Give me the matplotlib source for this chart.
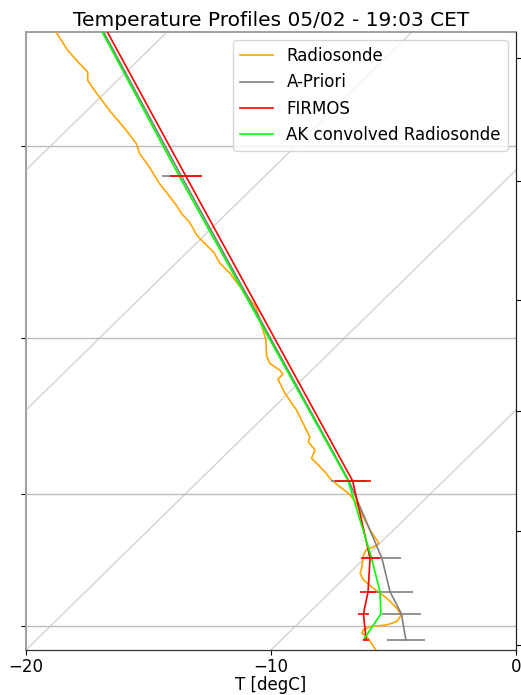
import numpy as np
import matplotlib
matplotlib.use("Agg")
import matplotlib.pyplot as plt
import matplotlib.transforms as mtransforms
from matplotlib.ticker import FixedLocator, NullLocator, NullFormatter

# radiosonde profile, pressure [hPa] and temperature [degC]
sonde_p = [345, 350.2, 357.6, 363.1, 366.8, 370.4, 374.7, 383.6, 392.6, 398.7,
           403.3, 409.9, 417.8, 421.9, 428.5, 432.6, 437.1, 443.7, 447.9, 452.6,
           458.4, 463.8, 473.1, 482.4, 489.9, 495.7, 501.5, 511.0, 515.3, 519.4,
           521.8, 524.9, 533.5, 544.2, 554.9, 561.4, 564.6, 570.1, 575.7, 579.0,
           584.8, 590.5, 595.1, 600.2, 606.7, 616.3, 625.9, 633.2, 635.7, 638.4,
           640.6, 645.1, 654.2, 658.3, 663.4, 669.9, 677.8, 685.7, 691.1, 696.5,
           699.2, 700.6, 703.3, 706.0, 708.8, 712.9, 717.1, 721.6]
sonde_T = [-45.37, -44.50, -43.28, -42.26, -41.56, -41.21, -40.52, -39.07, -37.56, -36.60,
           -36.06, -35.07, -33.98, -33.36, -32.39, -31.84, -31.14, -30.31, -29.66, -28.91,
           -28.21, -27.38, -26.15, -24.92, -24.20, -23.65, -23.12, -22.42, -21.99, -21.30,
           -21.01, -21.00, -20.14, -18.95, -17.92, -17.30, -17.16, -16.54, -16.33, -15.92,
           -15.23, -14.61, -13.99, -13.30, -12.62, -11.79, -10.96, -10.27, -10.04, -10.12,
           -10.29, -10.15, -9.72, -9.56, -9.15, -8.40, -7.43, -6.61, -6.15, -6.05,
           -6.32, -6.93, -7.07, -6.99, -6.65, -6.30, -5.96, -5.59]

# retrieval grid
levels_p = [340, 414.3, 591.1, 646.7, 672.8, 690.3, 711.5]
apriori_T = [-44.17, -33.38, -13.86, -9.31, -7.56, -6.18, -4.92]
firmos_T = [-44.02, -33.20, -13.71, -9.79, -8.46, -7.73, -6.54]
ak_T = [-44.22, -33.47, -13.89, -9.73, -7.97, -7.02, -6.65]

# error bars (all levels except the top one)
apriori_err = [0.80, 0.75, 0.78, 0.93, 0.78, 0.78]
firmos_err = [0.67, 0.73, 0.39, 0.33, 0.22, 0.12]

isotherms = [-50, -40, -30, -20, -10, 0]
p_ticks = [400, 500, 600, 700]
height_ticks_p = [360.6, 416.7, 478.7, 544.8, 626.6, 715.7]

P_BOTTOM = 720
P_TOP = 350
SKEW = 1.2877  # shift in axes widths per axes height


def main():
    fig = plt.figure(figsize=(5.21, 6.95), dpi=100)
    ax = fig.add_axes([26 / 521, 45 / 695, 490 / 521, 618 / 695])
    ax.set_yscale('log')
    ax.set_xlim(-20, 0)
    ax.set_ylim(P_BOTTOM, P_TOP)
    ax.set_autoscale_on(False)

    skew = mtransforms.Affine2D().skew(np.arctan(SKEW), 0)
    tr = ax.transScale + (ax.transLimits + skew + ax.transAxes)

    # isotherms
    for t in isotherms:
        ax.plot([t, t], [800, 300], color='#d3d3d3', lw=1, transform=tr, zorder=1)

    ax.plot(sonde_T, sonde_p, color='orange', lw=1.2, transform=tr, label='Radiosonde', zorder=3)
    ax.plot(apriori_T, levels_p, color='gray', lw=1.2, transform=tr, label='A-Priori', zorder=3)
    ax.plot(firmos_T, levels_p, color='red', lw=1.2, transform=tr, label='FIRMOS', zorder=4)
    ax.plot(ak_T, levels_p, color='lime', lw=1.2, transform=tr, label='AK convolved Radiosonde', zorder=4)

    ax.errorbar(apriori_T[1:], levels_p[1:], xerr=apriori_err, fmt='none',
                ecolor='gray', elinewidth=1.2, transform=tr, zorder=3)
    ax.errorbar(firmos_T[1:], levels_p[1:], xerr=firmos_err, fmt='none',
                ecolor='red', elinewidth=1.2, transform=tr, zorder=4)

    ax.yaxis.set_major_locator(FixedLocator(p_ticks))
    ax.yaxis.set_minor_locator(NullLocator())
    ax.yaxis.set_major_formatter(NullFormatter())
    ax.yaxis.set_minor_formatter(NullFormatter())
    ax.grid(axis='y', color='#bdbdbd', lw=1)
    ax.set_xticks([-20, -10, 0])
    ax.tick_params(labelsize=12, pad=2.5)
    ax.set_xlabel('T [degC]', fontsize=12, va='top')
    ax.xaxis.set_label_coords(0.5, -0.042)
    ax.set_title('Temperature Profiles 05/02 - 19:03 CET', fontsize=14.5, pad=4)

    for s in ('left', 'top'):
        ax.spines[s].set_color('#a0a0a0')
        ax.spines[s].set_linewidth(1.4)

    ax2 = ax.twinx()
    ax2.set_yscale('log')
    ax2.set_ylim(P_BOTTOM, P_TOP)
    ax2.yaxis.set_major_locator(FixedLocator(height_ticks_p))
    ax2.yaxis.set_minor_locator(NullLocator())
    ax2.yaxis.set_major_formatter(NullFormatter())
    ax2.yaxis.set_minor_formatter(NullFormatter())
    ax2.spines['left'].set_visible(False)
    ax2.spines['top'].set_visible(False)
    ax2.spines['bottom'].set_color('#333333')
    ax2.spines['right'].set_color('#222222')

    leg = ax.legend(loc='upper right', fontsize=12)
    leg.set_zorder(10)

    fig.savefig('out.png', dpi=100)


if __name__ == '__main__':
    main()
